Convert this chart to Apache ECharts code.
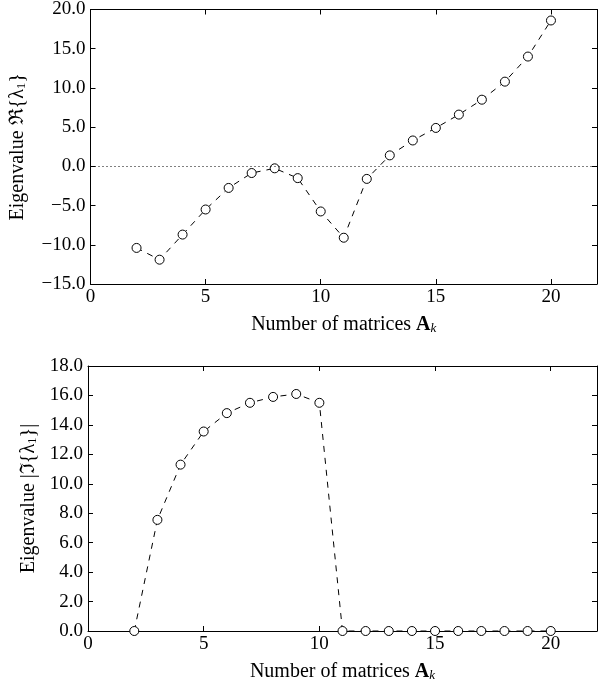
<!DOCTYPE html>
<html>
<head>
<meta charset="utf-8">
<script src="https://cdn.jsdelivr.net/npm/echarts@6/dist/echarts.min.js"></script>
<style>
  html, body { margin: 0; padding: 0; background: #fff; }
  #main { width: 600px; height: 683px; }
</style>
</head>
<body>
<div id="main"></div>
<script>
// matrix counts, shared by both panels
var nMatrices = [2, 3, 4, 5, 6, 7, 8, 9, 10, 11, 12, 13, 14, 15, 16, 17, 18, 19, 20];
// real part of lambda_1
var realPart = [-10.4, -11.9, -8.7, -5.5, -2.75, -0.85, -0.25, -1.5, -5.75, -9.1, -1.6, 1.4, 3.3, 4.9, 6.6, 8.5, 10.8, 14.0, 18.6];
// |imag part| of lambda_1
var imagPart = [0, 7.55, 11.3, 13.55, 14.8, 15.5, 15.9, 16.1, 15.5, 0, 0, 0, 0, 0, 0, 0, 0, 0, 0];

var FONT = 'Liberation Serif';
var FS = 19;   // tick labels
var NS = 20;   // axis names

function pairs(xs, ys) {
    return xs.map(function (x, i) { return [x, ys[i]]; });
}
function fmtY(v) {
    return (v < 0 ? '\u2212' : '') + Math.abs(v).toFixed(1);
}
function fmtX(v) {
    return v > 20 ? '' : String(v);
}

var axisLine = { onZero: false, lineStyle: { color: '#000', width: 1 } };
var tickIn = { inside: true, length: 5, lineStyle: { color: '#000' } };
var nameRich = {
    sub: { fontFamily: FONT, fontSize: 13, verticalAlign: 'bottom', padding: [8, 0, 0, 0], color: '#000' },
    b: { fontFamily: FONT, fontSize: NS, fontWeight: 'bold', color: '#000' },
    k: { fontFamily: FONT, fontSize: 13, fontStyle: 'italic', verticalAlign: 'bottom', padding: [8, 0, 0, 0], color: '#000' }
};
var nameStyle = { fontFamily: FONT, fontSize: NS, color: '#000', rich: nameRich };

function xAxes(gi) {
    return [{
        type: 'value', gridIndex: gi, position: 'bottom', min: 0, max: 22, interval: 5,
        name: 'Number of matrices {b|A}{k|k}', nameLocation: 'middle', nameGap: 30,
        nameTextStyle: nameStyle,
        axisLine: axisLine, axisTick: tickIn, splitLine: { show: false },
        axisLabel: { fontFamily: FONT, fontSize: FS, color: '#000', margin: 4, formatter: fmtX }
    }, {
        type: 'value', gridIndex: gi, position: 'top', min: 0, max: 22, interval: 5,
        axisLine: axisLine, axisTick: tickIn, splitLine: { show: false },
        axisLabel: { show: false }
    }];
}
function yAxes(gi, min, max, step, name, gap) {
    return [{
        type: 'value', gridIndex: gi, position: 'left', min: min, max: max, interval: step,
        name: name, nameLocation: 'middle', nameGap: gap,
        nameTextStyle: nameStyle,
        axisLine: axisLine, axisTick: tickIn, splitLine: { show: false },
        axisLabel: { fontFamily: FONT, fontSize: FS, color: '#000', margin: 5, formatter: fmtY }
    }, {
        type: 'value', gridIndex: gi, position: 'right', min: min, max: max, interval: step,
        axisLine: axisLine, axisTick: tickIn, splitLine: { show: false },
        axisLabel: { show: false }
    }];
}

var lineSeries = {
    type: 'line',
    symbol: 'circle', symbolSize: 9,
    itemStyle: { color: '#fff', borderColor: '#000', borderWidth: 1 },
    lineStyle: { color: '#000', width: 1, type: [6, 6] },
    animation: false
};

var chart = echarts.init(document.getElementById('main'));
chart.setOption({
    animation: false,
    grid: [
        { left: 88, right: 1, top: 9, height: 275 },
        { left: 88, right: 1, top: 366, height: 274 }
    ],
    xAxis: xAxes(0).concat(xAxes(1)),
    yAxis: yAxes(0, -15, 20, 5, 'Eigenvalue \u211C{\u03BB{sub|1}}', 62)
        .concat(yAxes(1, 0, 18, 2, 'Eigenvalue |\u2111{\u03BB{sub|1}}|', 44)),
    series: [
        Object.assign({}, lineSeries, {
            xAxisIndex: 0, yAxisIndex: 0,
            data: pairs(nMatrices, realPart),
            markLine: {
                silent: true, symbol: 'none', label: { show: false },
                lineStyle: { color: '#000', width: 1, type: [1, 3] },
                data: [{ yAxis: 0 }]
            }
        }),
        Object.assign({}, lineSeries, {
            xAxisIndex: 2, yAxisIndex: 2,
            data: pairs(nMatrices, imagPart)
        })
    ]
});
</script>
</body>
</html>
